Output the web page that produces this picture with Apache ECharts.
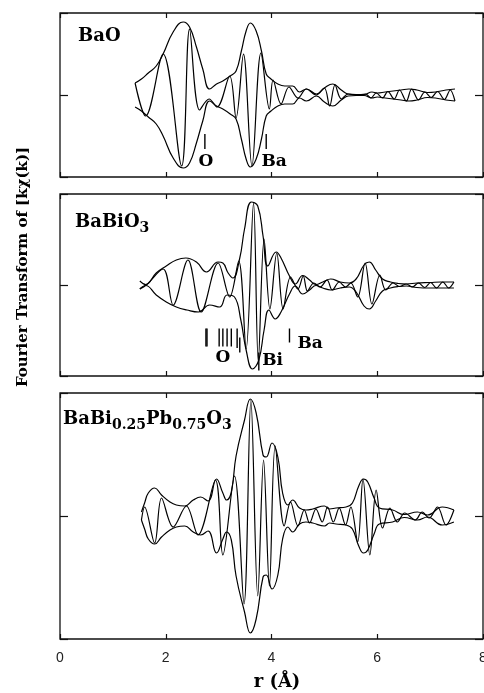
<!DOCTYPE html>
<html>
<head>
<meta charset="utf-8">
<script src="https://cdn.jsdelivr.net/npm/echarts@6/dist/echarts.min.js"></script>
<style>
  html, body { margin: 0; padding: 0; background: #fff; }
  #chart { width: 484px; height: 693px; }
</style>
</head>
<body>
<div id="chart"></div>
<script>
// x axis ticks (r in Angstrom)
var rTicks = [0, 2, 4, 6, 8];

// BaO : envelope |FT| (top), and the oscillating part
var envBaO = [[1.42,1.2],[1.54,1.6],[1.67,2.2],[1.82,2.9],[1.95,4.1],[2.14,6.3],[2.33,7.3],[2.45,6.8],[2.58,4.8],[2.70,2.6],[2.83,0.6],[2.96,1.1],[3.08,1.4],[3.22,1.9],[3.33,2.4],[3.43,4.4],[3.52,6.4],[3.60,7.2],[3.71,6.4],[3.81,4.4],[3.90,2.1],[3.99,1.6],[4.12,1.1],[4.25,0.9],[4.40,0.9],[4.53,0.3],[4.66,0.6],[4.85,0.1],[5.00,0.7],[5.16,1.1],[5.32,0.5],[5.45,0.1],[5.60,0.05],[5.75,0.05],[5.90,0.3],[6.00,0.2],[6.15,0.3],[6.30,0.4],[6.45,0.5],[6.60,0.6],[6.75,0.5],[6.95,0.25],[7.10,0.3],[7.30,0.5],[7.47,0.6]];
var oscBaO = [[1.42,1.2],[1.62,-2.1],[1.95,4.1],[2.30,-7.1],[2.45,6.6],[2.64,-1.5],[2.82,-0.4],[2.97,-1.2],[3.21,1.9],[3.33,-2.3],[3.47,4.1],[3.63,-7.1],[3.80,4.2],[3.96,-1.4],[4.03,1.5],[4.18,-0.9],[4.33,0.8],[4.50,-0.3],[4.66,0.6],[4.85,0],[5.00,0.7],[5.10,-1.1],[5.20,1.0],[5.32,-0.4],[5.45,0.1],[5.60,0],[5.78,0.1],[5.88,-0.3],[5.98,0.2],[6.10,-0.3],[6.20,0.35],[6.32,-0.4],[6.42,0.5],[6.55,-0.6],[6.65,0.6],[6.78,-0.5],[6.90,0.3],[7.02,-0.25],[7.14,0.35],[7.27,-0.45],[7.38,0.5],[7.47,-0.6]];
var ticksBaO = [[2.74,-3.9,-5.4],[3.9,-3.9,-5.4]];
var labelsBaO = [[2.76,-6.7,'O'],[4.05,-6.7,'Ba']];

// BaBiO3
var envTopBaBiO3 = [[1.51,0.4],[1.62,0.05],[1.82,1.2],[2.01,1.9],[2.20,2.5],[2.38,2.7],[2.58,2.3],[2.77,1.3],[2.99,2.3],[3.08,2.2],[3.18,1.2],[3.27,0.7],[3.40,2.7],[3.49,5.6],[3.62,8.3],[3.74,7.9],[3.84,4.9],[3.93,1.9],[4.09,3.3],[4.18,2.7],[4.34,0.9],[4.45,0.1],[4.59,0.95],[4.72,0.5],[4.84,0.05],[4.97,0.3],[5.12,0.6],[5.30,0.3],[5.47,0.2],[5.60,0.6],[5.75,2.0],[5.85,2.3],[5.97,1.5],[6.10,0.6],[6.25,0.3],[6.40,0.15],[6.55,0.1],[6.75,0.2],[7.00,0.25],[7.20,0.3],[7.45,0.3]];
var envBotBaBiO3 = [[1.51,-0.4],[1.62,-0.05],[1.82,-1.0],[2.01,-1.7],[2.20,-2.2],[2.40,-2.5],[2.62,-2.7],[2.83,-2.0],[3.02,-2.2],[3.16,-1.0],[3.30,-1.2],[3.42,-3.5],[3.52,-6.5],[3.64,-8.4],[3.76,-7.5],[3.86,-4.5],[3.95,-2.5],[4.07,-3.4],[4.18,-2.7],[4.34,-0.9],[4.45,-0.1],[4.59,-0.9],[4.72,-0.5],[4.84,-0.05],[4.97,-0.3],[5.12,-0.5],[5.30,-0.3],[5.47,-0.2],[5.60,-0.7],[5.75,-2.1],[5.85,-2.4],[5.97,-1.6],[6.10,-0.6],[6.25,-0.3],[6.40,-0.15],[6.55,-0.1],[6.75,-0.25],[7.00,-0.3],[7.20,-0.3],[7.45,-0.3]];
var oscBaBiO3 = [[1.51,-0.4],[1.63,0],[1.95,1.6],[2.14,-2.0],[2.42,2.5],[2.67,-2.7],[2.99,2.2],[3.21,-1.2],[3.38,2.4],[3.52,-6.4],[3.66,8.2],[3.75,-7.6],[3.86,4.6],[3.97,-2.4],[4.10,3.2],[4.22,-2.4],[4.36,0.8],[4.50,-0.4],[4.60,0.9],[4.68,-0.6],[4.80,0.2],[4.92,-0.2],[5.05,0.5],[5.15,-0.5],[5.28,0.3],[5.40,-0.2],[5.50,0.2],[5.63,-1.2],[5.77,2.2],[5.90,-1.9],[6.05,1.0],[6.16,-0.5],[6.30,0.2],[6.42,-0.15],[6.55,0.1],[6.66,-0.2],[6.78,0.2],[6.90,-0.25],[7.01,0.25],[7.12,-0.3],[7.24,0.3],[7.35,-0.3],[7.45,0.3]];
var ticksBaBiO3 = [[2.76,-4.35,-6.15],[2.78,-4.35,-6.15],[3.01,-4.35,-6.15],[3.08,-4.35,-6.15],[3.16,-4.35,-6.15],[3.24,-4.35,-6.15],[3.35,-4.35,-6.3],[3.40,-5.25,-6.75],[3.76,-6.75,-8.55],[4.34,-4.35,-5.75]];
var labelsBaBiO3 = [[3.08,-7.25,'O'],[4.02,-7.55,'Bi'],[4.73,-5.9,'Ba']];

// BaBi0.25Pb0.75O3
var envBaBiPbO3 = [[1.54,0.4],[1.60,1.3],[1.67,2.3],[1.79,2.8],[1.92,2.1],[2.08,1.4],[2.20,1.1],[2.36,1.0],[2.52,1.6],[2.66,1.9],[2.80,1.5],[2.96,3.7],[3.08,2.3],[3.15,1.6],[3.24,2.4],[3.33,6.0],[3.49,9.6],[3.60,11.7],[3.71,10.3],[3.84,6.1],[3.90,5.9],[4.01,7.3],[4.12,5.9],[4.21,2.3],[4.31,1.1],[4.40,1.6],[4.53,0.8],[4.65,0.6],[4.78,0.7],[5.00,1.0],[5.10,0.7],[5.22,0.8],[5.41,0.9],[5.53,1.3],[5.65,3.0],[5.74,3.7],[5.82,3.4],[5.94,1.8],[6.04,0.8],[6.29,0.6],[6.51,0.15],[6.76,0.4],[6.95,0.1],[7.23,0.9],[7.45,0.6]];
var oscBaBiPbO3 = [[1.54,-0.4],[1.60,0.9],[1.79,-2.7],[1.92,1.8],[2.14,-1.1],[2.39,1.0],[2.61,-1.9],[2.94,3.6],[3.08,-3.9],[3.30,4.0],[3.48,-8.8],[3.61,11.6],[3.74,-8.0],[3.85,5.6],[3.96,-7.0],[4.07,7.0],[4.24,-1.0],[4.36,1.4],[4.50,-1.0],[4.62,0.6],[4.72,-0.7],[4.84,0.7],[4.96,-0.6],[5.06,0.9],[5.17,-0.6],[5.28,0.8],[5.40,-0.9],[5.50,0.9],[5.63,-2.6],[5.73,3.7],[5.86,-3.9],[5.98,2.6],[6.10,-1.2],[6.24,0.8],[6.38,-0.6],[6.52,0.3],[6.72,-0.4],[6.85,0.4],[6.98,-0.2],[7.14,0.9],[7.30,-0.9],[7.45,0.6]];

var panels = [
  { env: envBaO, envBot: null, osc: oscBaO, ticks: ticksBaO, labels: labelsBaO, half: 8.2, top: 13, height: 164 },
  { env: envTopBaBiO3, envBot: envBotBaBiO3, osc: oscBaBiO3, ticks: ticksBaBiO3, labels: labelsBaBiO3, half: 9.1, top: 194, height: 182 },
  { env: envBaBiPbO3, envBot: null, osc: oscBaBiPbO3, ticks: [], labels: [], half: 12.3, top: 393, height: 246 }
];

var serif = 'DejaVu Serif';
var grids = [], xAxes = [], yAxes = [], series = [];

function tickRender(params, api) {
  var a = api.coord([api.value(0), api.value(1)]);
  var b = api.coord([api.value(0), api.value(2)]);
  return { type: 'line', shape: { x1: a[0], y1: a[1], x2: b[0], y2: b[1] },
           style: { stroke: '#000', lineWidth: 1.4 } };
}

panels.forEach(function (p, i) {
  grids.push({ left: 60, right: 1, top: p.top, height: p.height, show: true,
               outerBoundsMode: 'none', containLabel: false,
               borderColor: '#111', borderWidth: 1.3, backgroundColor: 'transparent' });
  ['bottom', 'top'].forEach(function (pos) {
    xAxes.push({
      type: 'value', gridIndex: i, position: pos, min: 0, max: 8, interval: 2,
      axisLine: { show: false, onZero: false },
      axisTick: { show: true, inside: true, length: 5, lineStyle: { color: '#111', width: 1.2 } },
      splitLine: { show: false },
      axisLabel: { show: (i === 2 && pos === 'bottom'), margin: 12, color: '#222',
                   fontFamily: 'Liberation Sans', fontSize: 14,
                   formatter: function (v) { return rTicks.indexOf(v) >= 0 ? String(v) : ''; } }
    });
  });
  ['left', 'right'].forEach(function (pos) {
    yAxes.push({
      type: 'value', gridIndex: i, position: pos, min: -p.half, max: p.half, interval: p.half,
      axisLine: { show: false, onZero: false },
      axisTick: { show: true, inside: true, length: 8, lineStyle: { color: '#111', width: 1.2 } },
      splitLine: { show: false }, axisLabel: { show: false }
    });
  });
  var xi = i * 2, yi = i * 2;
  var lineBase = { type: 'line', xAxisIndex: xi, yAxisIndex: yi, showSymbol: false, symbol: 'none',
                   animation: false, silent: true, lineStyle: { color: '#000', width: 1.2 } };
  var bot = p.envBot ? p.envBot : p.env.map(function (d) { return [d[0], -d[1]]; });
  series.push(Object.assign({}, lineBase, { data: p.env, smooth: 0.45 }));
  series.push(Object.assign({}, lineBase, { data: bot, smooth: 0.45 }));
  series.push(Object.assign({}, lineBase, { data: p.osc, smooth: 0.35 }));
  if (p.ticks.length) {
    series.push({ type: 'custom', xAxisIndex: xi, yAxisIndex: yi, silent: true, animation: false,
                  data: p.ticks, renderItem: tickRender });
  }
  if (p.labels.length) {
    series.push({ type: 'custom', xAxisIndex: xi, yAxisIndex: yi, silent: true, animation: false,
      data: p.labels.map(function (d) { return [d[0], d[1], d[2]]; }),
      renderItem: function (params, api) {
        var c = api.coord([api.value(0), api.value(1)]);
        return { type: 'text', x: c[0], y: c[1],
                 style: { text: p.labels[params.dataIndex][2], fill: '#000', align: 'center',
                          verticalAlign: 'middle', font: 'bold 17px "' + serif + '"' } };
      } });
  }
});

var mainStyle = { fontFamily: serif, fontWeight: 'bold', fontSize: 18, color: '#000', padding: [0, 0, 4, 0] };
var subStyle = { fontFamily: serif, fontWeight: 'bold', fontSize: 14, color: '#000', verticalAlign: 'bottom' };

var option = {
  backgroundColor: '#fff',
  animation: false,
  grid: grids,
  xAxis: xAxes,
  yAxis: yAxes,
  series: series,
  graphic: [
    { type: 'text', left: 78, top: 27, silent: true,
      style: { text: 'BaO', font: 'bold 18px "' + serif + '"', fill: '#000' } },
    { type: 'text', left: 75, top: 213, silent: true,
      style: { text: '{m|BaBiO}{s|3}', rich: { m: mainStyle, s: subStyle } } },
    { type: 'text', left: 63, top: 410, silent: true,
      style: { text: '{m|BaBi}{s|0.25}{m|Pb}{s|0.75}{m|O}{s|3}', rich: { m: mainStyle, s: subStyle } } },
    { type: 'text', x: 277, y: 682, silent: true,
      style: { text: 'r (Å)', font: 'bold 18px "' + serif + '"', fill: '#000',
               align: 'center', verticalAlign: 'middle' } },
    { type: 'text', x: 23, y: 267, rotation: Math.PI / 2, silent: true,
      style: { text: 'Fourier Transform of [kχ(k)]', font: 'bold 15px "' + serif + '"', fill: '#000',
               align: 'center', verticalAlign: 'middle' } }
  ]
};

var chart = echarts.init(document.getElementById('chart'));
chart.setOption(option);
</script>
</body>
</html>
